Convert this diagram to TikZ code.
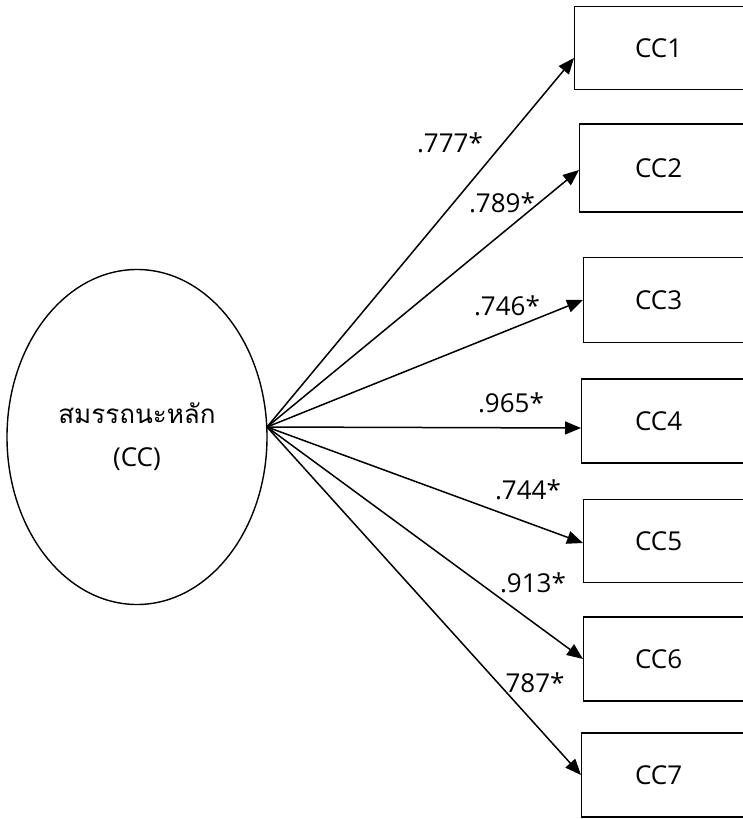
\documentclass[tikz,border=0pt]{standalone}
\usepackage{fontspec}
\setmainfont{Open Sans}
\newfontfamily\thaifont[Script=Thai]{Loma}
\usetikzlibrary{arrows.meta,shapes.geometric}
\tikzset{
  latent/.style={draw, ellipse, line width=1.4pt, minimum width=260pt, minimum height=335pt, inner sep=0pt, align=center, font=\fontsize{26}{43}\selectfont},
  box/.style={draw, rectangle, line width=1.3pt, anchor=west, inner xsep=0pt, inner ysep=0pt, font=\fontsize{26}{30}\selectfont},
  path/.style={line width=1.5pt, -{Triangle[length=16pt,width=13pt]}},
  coef/.style={font=\fontsize{26}{30}\selectfont, inner sep=1pt}
}
\begin{document}
\begin{tikzpicture}[x=1pt,y=-1pt]
\useasboundingbox (0,0) rectangle (742,819);
\node[latent] (cc) at (137,437) {{\thaifont สมรรถนะหลัก}\\(CC)};
\coordinate (o) at (267,427);
\node[box, minimum height=83pt] (c1) at (574,48) {\makebox[168pt]{CC1}\kern60pt};
\node[box, minimum height=88pt] (c2) at (579,168) {\makebox[158pt]{CC2}\kern60pt};
\node[box, minimum height=85pt] (c3) at (583,300) {\makebox[150pt]{CC3}\kern60pt};
\node[box, minimum height=84pt] (c4) at (581,421) {\makebox[154pt]{CC4}\kern60pt};
\node[box, minimum height=83pt] (c5) at (583,541) {\makebox[150pt]{CC5}\kern60pt};
\node[box, minimum height=84pt] (c6) at (583,659) {\makebox[150pt]{CC6}\kern60pt};
\node[box, minimum height=84pt] (c7) at (581,775) {\makebox[154pt]{CC7}\kern60pt};
\draw[path] (o) -- ([yshift=-10pt]c1.west);
\draw[path] (o) -- ([yshift=-2pt]c2.west);
\draw[path] (o) -- (c3.west);
\draw[path] (o) -- ([yshift=-7pt]c4.west);
\draw[path] (o) -- ([yshift=-2pt]c5.west);
\draw[path] (o) -- (c6.west);
\draw[path] (o) -- (c7.west);
\node[coef] (l1) at (450,143) {.777*};
\node[coef] (l2) at (502,203) {.789*};
\node[coef] (l3) at (507,306) {.746*};
\node[coef] (l4) at (511,403) {.965*};
\node[coef] (l5) at (528,490) {.744*};
\node[coef] (l6) at (533,583) {.913*};
\node[coef] (l7) at (535,683) {787*};
\end{tikzpicture}
\end{document}
